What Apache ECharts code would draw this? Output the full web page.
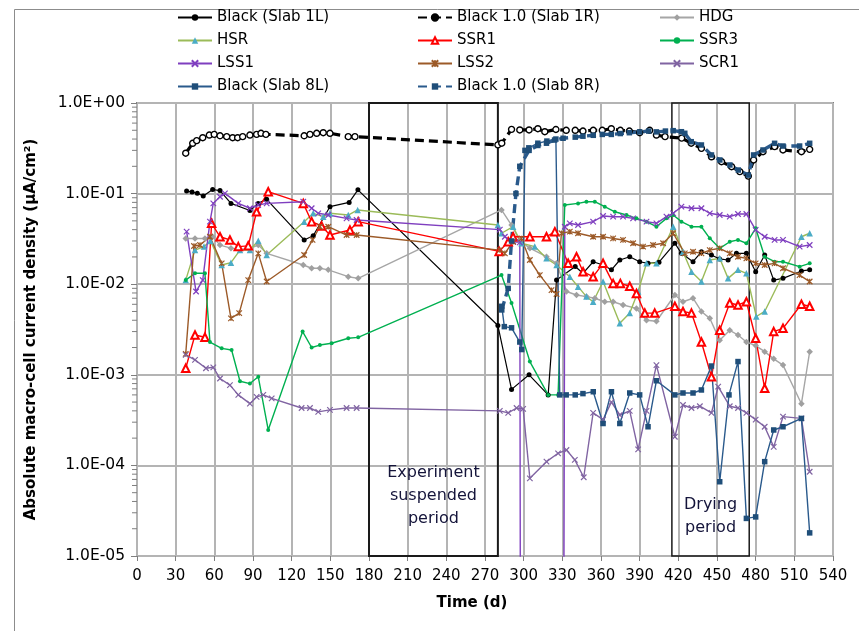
<!DOCTYPE html>
<html>
<head>
<meta charset="utf-8">
<script src="https://cdn.jsdelivr.net/npm/echarts/dist/echarts.min.js"></script>
<style>
  html, body { margin: 0; padding: 0; background: #ffffff; }
  #chart { width: 859px; height: 631px; }
</style>
</head>
<body>
<div id="chart"></div>
<script>
// Macro-cell current density per specimen: [time (d), |i| (µA/cm²)]
const blackSlab1L = [[38.5,0.107],[42.7,0.104],[46.8,0.101],[51.4,0.094],[58.7,0.111],[64.4,0.108],[72.9,0.078],[87.6,0.065],[94,0.078],[100.6,0.0865],[129.7,0.0308],[136.7,0.0343],[149.7,0.0717],[164.6,0.08],[171.4,0.11],[280,0.0035],[290.6,0.00069],[304.2,0.001],[319,0.0006],[325.5,0.0111],[340,0.0157],[346,0.0132],[353.9,0.0177],[361.6,0.0163],[368.1,0.0144],[374.6,0.0185],[382.3,0.0201],[390,0.0177],[396.5,0.017],[405,0.0175],[417.3,0.0283],[422.4,0.0219],[431.4,0.0177],[437.9,0.0228],[445.7,0.021],[452,0.019],[458.6,0.0185],[465.1,0.0219],[472.8,0.0219],[480,0.0137],[487,0.021],[494,0.0111],[501.2,0.0116],[515.5,0.014],[521.9,0.0144]];

const black10Slab1R = [[37.8,0.279],[43.2,0.359],[46.3,0.384],[51,0.414],[56.1,0.443],[59.9,0.451],[64.4,0.435],[69.6,0.425],[74.2,0.414],[78.1,0.414],[82,0.425],[87.6,0.443],[92.8,0.451],[96.2,0.463],[100,0.451],[129.7,0.435],[134.2,0.451],[139.4,0.463],[144.5,0.47],[149.7,0.463],[163.9,0.425],[169.1,0.425],[280,0.345],[283,0.36],[290.6,0.512],[297,0.504],[304.2,0.504],[311,0.52],[316.4,0.482],[325,0.51],[333,0.5],[340,0.5],[346,0.49],[354,0.5],[361,0.5],[368,0.52],[375,0.5],[382,0.49],[390,0.47],[397.8,0.5],[403,0.443],[409.7,0.425],[422.6,0.41],[430,0.36],[437.9,0.316],[445.7,0.255],[453.5,0.225],[461.3,0.198],[467.7,0.175],[474.3,0.156],[478.4,0.235],[485.7,0.29],[494.7,0.33],[501.2,0.303],[515.5,0.29],[521.9,0.308]];

const hdg = [[37.8,0.032],[45,0.032],[52.7,0.032],[58.7,0.0334],[64.4,0.027],[72.9,0.025],[79.9,0.024],[87.6,0.0249],[94.1,0.027],[100.6,0.0219],[129,0.0163],[135.5,0.015],[141.9,0.015],[148.4,0.0144],[163.9,0.0121],[171.6,0.0116],[282.8,0.066],[290.6,0.045],[297,0.03],[304.8,0.025],[317.7,0.0201],[325.5,0.017],[333.2,0.0083],[341,0.0076],[348.7,0.0073],[355.2,0.007],[362.9,0.0064],[369.4,0.0064],[377.1,0.0059],[387.5,0.0054],[395.3,0.004],[403,0.0039],[417.3,0.0076],[423.6,0.0064],[431.4,0.007],[437.9,0.005],[444.4,0.0042],[452.1,0.0024],[459.9,0.0031],[466.3,0.00275],[472.8,0.0023],[480,0.0021],[487,0.0018],[494,0.0015],[501.2,0.00128],[515.5,0.00048],[521.9,0.0018]];

const hsr = [[37.8,0.0111],[45,0.0238],[52,0.026],[57,0.03],[65.7,0.0163],[72.9,0.0173],[79.9,0.0238],[87.6,0.0238],[94.1,0.0302],[100.6,0.021],[129.7,0.049],[136.7,0.0606],[144.5,0.0556],[149.7,0.0606],[163.9,0.058],[171.2,0.066],[280,0.045],[282.8,0.0365],[291.8,0.0431],[298.3,0.0283],[308.6,0.026],[317.7,0.0193],[325.5,0.0163],[335.8,0.0121],[342.2,0.0094],[348.7,0.0073],[353.9,0.0064],[361.6,0.0107],[374.6,0.0037],[382.3,0.0048],[388.8,0.0083],[395.3,0.017],[403,0.017],[416,0.0431],[423.6,0.0228],[430.2,0.0137],[437.9,0.0107],[444.4,0.0185],[452.1,0.0193],[458.6,0.0116],[466.3,0.0144],[472.8,0.0132],[480.5,0.0044],[487,0.005],[515.5,0.0334],[521.9,0.0365]];

const ssr1 = [[37.8,0.00118],[45,0.00275],[52.7,0.0026],[57.9,0.047],[64.4,0.0334],[72.1,0.0308],[78.6,0.026],[86.3,0.0265],[92.8,0.063],[101.8,0.105],[129,0.078],[135.5,0.049],[143.2,0.0439],[149.7,0.0349],[165.2,0.0397],[171.6,0.049],[281,0.023],[288,0.0294],[291.8,0.0334],[304.8,0.0334],[317.7,0.0334],[324.2,0.038],[334.5,0.017],[341,0.0201],[346.1,0.0137],[353.9,0.0121],[361.6,0.017],[369.4,0.0102],[375,0.0102],[382.3,0.0095],[387.5,0.0079],[394,0.0048],[401.7,0.0048],[417.3,0.0057],[423.6,0.005],[430.2,0.0048],[437.9,0.0023],[445.7,0.00095],[452.1,0.0031],[459.9,0.0062],[466.3,0.0059],[472.8,0.0064],[480,0.00253],[487,0.00071],[494,0.003],[501.2,0.00326],[515.5,0.006],[521.9,0.0057]];

const ssr3 = [[37.8,0.0111],[45,0.0132],[52.7,0.0132],[56.6,0.0023],[65.7,0.00196],[73.4,0.00188],[79.9,0.00085],[87.6,0.0008],[94.1,0.00095],[101.8,0.000246],[128.5,0.003],[135.5,0.002],[141.9,0.00213],[151,0.00223],[163.9,0.00253],[171.6,0.00259],[282.8,0.0126],[290.6,0.0062],[304.8,0.0014],[319,0.0006],[326.7,0.0006],[331.9,0.0749],[342.2,0.078],[348.7,0.0814],[355.2,0.0814],[362.9,0.0717],[370.7,0.063],[379.8,0.058],[387.5,0.0533],[395.3,0.049],[403,0.0431],[410.8,0.0533],[416,0.058],[422.4,0.049],[430.2,0.0431],[437.9,0.0431],[444.4,0.0321],[452.1,0.0249],[459.9,0.0294],[466.3,0.0308],[472.8,0.0283],[480,0.0414],[487,0.0201],[494.7,0.0177],[501.2,0.0177],[514.1,0.0156],[521.9,0.017]];

// 0 = reading not plottable on the log scale
const lss1 = [[38.5,0.038],[45.8,0.0083],[51,0.0111],[56.6,0.049],[59.2,0.078],[64.4,0.0924],[68.2,0.1007],[78.6,0.078],[87.6,0.0689],[94,0.0749],[100.6,0.078],[129,0.0814],[135.5,0.0689],[140.6,0.0606],[148.4,0.058],[162.6,0.0533],[170.4,0.0511],[281.5,0.04],[285.4,0.0334],[291.8,0.0294],[297,0.029],[300,0],[327,0],[331.9,0.0431],[335.8,0.047],[342.2,0.045],[353.9,0.049],[361.6,0.0566],[369.4,0.0556],[377.1,0.0556],[384.9,0.0533],[395.3,0.049],[403,0.047],[410.8,0.0556],[416,0.0606],[422.4,0.0717],[430.2,0.0689],[437.9,0.0689],[444.4,0.0606],[452.1,0.058],[459.9,0.0556],[466.3,0.0596],[472.8,0.0596],[480,0.0397],[487,0.0334],[494.7,0.0308],[501.2,0.0308],[514.1,0.026],[521.9,0.0271]];

const lss2 = [[37.8,0.0017],[44.2,0.0264],[48.9,0.0271],[56.6,0.0334],[65.7,0.017],[72.9,0.0042],[79.3,0.0048],[86.3,0.0111],[94.1,0.0219],[100.6,0.0107],[129.7,0.021],[136.2,0.0308],[141.9,0.0431],[148.4,0.0431],[162.6,0.0349],[170.4,0.0349],[281.5,0.0238],[285.4,0.0219],[291.8,0.0294],[298.3,0.032],[304.8,0.0185],[312.5,0.0126],[321.6,0.0086],[325.5,0.0078],[329.3,0.0365],[335.8,0.038],[342.2,0.0365],[353.9,0.0334],[361.6,0.0334],[369.4,0.032],[377.1,0.0308],[384.9,0.0283],[392.6,0.026],[400.4,0.0271],[408.2,0.0283],[416,0.0365],[425,0.0219],[431.4,0.0228],[437.9,0.0219],[444.4,0.0238],[452.1,0.0249],[459.9,0.0219],[466.3,0.0201],[472.8,0.0193],[480,0.017],[487,0.0163],[494.7,0.017],[501.2,0.015],[514.1,0.0126],[521.9,0.0107]];

const scr1 = [[37.8,0.00166],[45,0.00146],[53.5,0.00118],[59.2,0.00121],[64.4,0.00091],[72.1,0.00077],[78.6,0.0006],[87.6,0.00048],[92.8,0.00057],[98,0.0006],[104.5,0.00055],[127.7,0.00043],[134.2,0.00043],[140.6,0.00039],[149.7,0.00041],[162.6,0.00043],[170.4,0.00043],[281.5,0.0004],[288,0.00038],[294.5,0.00043],[299.6,0.00042],[304.8,0.000072],[317.7,0.00011],[326.7,0.000136],[333.2,0.000148],[339.7,0.000115],[346.6,0.000074],[353.9,0.00038],[361.6,0.00032],[368.1,0.0005],[374.6,0.00036],[382.3,0.0004],[388.8,0.00015],[395.3,0.0004],[403,0.00128],[417.3,0.000207],[423.6,0.000464],[430.2,0.00043],[436.7,0.00045],[445.7,0.00038],[450.9,0.00074],[459.9,0.00045],[466.3,0.00043],[472.8,0.00038],[480,0.00032],[487,0.000267],[494,0.00016],[501.2,0.000345],[515.5,0.00033],[521.9,0.000085]];

const blackSlab8L = [[283,0.0057],[285,0.0034],[290.6,0.0033],[297,0.0023],[298.5,0.0019],[301,0.3],[304,0.32],[311,0.36],[318,0.38],[325,0.4],[328,0.0006],[333,0.0006],[340,0.0006],[346,0.00062],[354,0.00065],[361.6,0.00029],[368.1,0.00065],[374.6,0.00029],[382.3,0.00063],[390,0.0006],[396.5,0.000267],[403,0.00086],[417.3,0.0006],[423.6,0.00063],[431.4,0.00063],[437.9,0.00068],[445.7,0.00125],[452.1,0.000066],[459.3,0.0006],[466.3,0.0014],[472.8,0.000026],[480,0.000027],[487,0.00011],[494,0.000246],[501.2,0.000267],[515.5,0.00033],[521.9,0.000018]];

const black10Slab8R = [[283,0.0052],[288,0.009],[290.6,0.03],[294,0.1],[297,0.2],[304.2,0.3],[311,0.34],[317.7,0.36],[324,0.39],[330.6,0.408],[340,0.42],[346,0.43],[354,0.44],[361,0.45],[368,0.45],[375,0.46],[382,0.47],[390,0.48],[397,0.49],[403,0.48],[410,0.49],[416,0.495],[422.4,0.482],[425,0.463],[430,0.374],[437.9,0.344],[445.7,0.267],[452.2,0.235],[460,0.207],[466.5,0.182],[474.3,0.16],[478.4,0.267],[485.7,0.303],[494.7,0.359],[501.2,0.335],[514.1,0.335],[521.9,0.359]];

// Periods marked on the time axis [start, end] (d)
const suspendedPeriod = [180, 280];
const dryingPeriod = [415, 475];

// Log-axis decades and minor tick multipliers
const yDecades = [1e-5, 1e-4, 1e-3, 1e-2, 1e-1, 1];
const minorMultipliers = [2, 3, 4, 5, 6, 7, 8, 9];

const FONT = 'DejaVu Sans';
const plotVal = v => (v > 0 ? v : 1e-30);
const prep = arr => arr.map(p => [p[0], plotVal(p[1])]);

const xMark = 'path://M0,0L10,10M10,0L0,10';
const starMark = 'path://M0,0L10,10M10,0L0,10M5,0L5,10';

function line(name, data, o) {
  return {
    name: name,
    type: 'line',
    data: prep(data),
    showSymbol: true,
    symbol: o.symbol,
    symbolSize: o.size,
    lineStyle: { color: o.line, width: o.width, type: o.dash ? [9, 5] : 'solid' },
    itemStyle: {
      color: o.fill,
      borderColor: o.border || o.fill,
      borderWidth: o.bw || 0
    },
    emphasis: { disabled: true },
    animation: false,
    clip: true,
    z: o.z || 3
  };
}

const minorTickData = [];
yDecades.slice(0, -1).forEach(d => minorMultipliers.forEach(m => minorTickData.push([0, d * m])));

const series = [
  line('Black (Slab 1L)', blackSlab1L, { line: '#000000', width: 1.2, symbol: 'circle', size: 5, fill: '#000000' }),
  line('Black 1.0 (Slab 1R)', black10Slab1R, { line: '#000000', width: 3.2, dash: true, symbol: 'circle', size: 6, fill: '#ffffff', border: '#000000', bw: 1.4 }),
  line('HDG', hdg, { line: '#a6a6a6', width: 1.4, symbol: 'diamond', size: 6.5, fill: '#a0a0a0' }),
  line('HSR', hsr, { line: '#9bbb59', width: 1.4, symbol: 'triangle', size: 6.5, fill: '#4bacc6' }),
  line('SSR1', ssr1, { line: '#ff0000', width: 1.4, symbol: 'emptyTriangle', size: 7.5, fill: '#ff0000', bw: 1.3 }),
  line('SSR3', ssr3, { line: '#00b050', width: 1.4, symbol: 'circle', size: 4, fill: '#00b050' }),
  line('LSS1', lss1, { line: '#7f3fbf', width: 1.4, symbol: xMark, size: 5.5, fill: '#7f3fbf', bw: 1.2 }),
  line('LSS2', lss2, { line: '#9c5a28', width: 1.4, symbol: starMark, size: 5.5, fill: '#9c5a28', bw: 1.2 }),
  line('SCR1', scr1, { line: '#8064a2', width: 1.4, symbol: xMark, size: 5.5, fill: '#8064a2', bw: 1.2 }),
  line('Black (Slab 8L)', blackSlab8L, { line: '#2a5a8c', width: 1.4, symbol: 'rect', size: 5.5, fill: '#1f4e79' }),
  line('Black 1.0 (Slab 8R)', black10Slab8R, { line: '#2a5a8c', width: 3.4, dash: true, symbol: 'rect', size: 5.5, fill: '#1f4e79' }),
  {
    name: 'yMinorTicks',
    type: 'custom',
    silent: true,
    clip: false,
    animation: false,
    data: minorTickData,
    renderItem: function (params, api) {
      const p = api.coord([0, api.value(1)]);
      return {
        type: 'line',
        shape: { x1: p[0] - 5, y1: p[1], x2: p[0], y2: p[1] },
        style: { stroke: '#7f7f7f', lineWidth: 1 }
      };
    },
    z: 4
  }
];

// Boxes around the suspended and drying periods
series[0].markArea = {
  silent: true,
  itemStyle: { color: 'rgba(0,0,0,0)', borderColor: '#1a1a1a', borderWidth: 2 },
  label: {
    show: true,
    position: 'insideBottom',
    fontFamily: FONT,
    fontSize: 16,
    lineHeight: 23,
    color: '#14143a',
    align: 'center'
  },
  data: [
    [{ name: 'Experiment\nsuspended\nperiod', xAxis: suspendedPeriod[0], label: { distance: 27 } }, { xAxis: suspendedPeriod[1] }],
    [{ name: 'Drying\nperiod', xAxis: dryingPeriod[0], itemStyle: { borderWidth: 1.5 }, label: { distance: 17 } }, { xAxis: dryingPeriod[1] }]
  ]
};

const legendText = { fontFamily: FONT, fontSize: 15, color: '#000000' };
const legendBase = {
  orient: 'vertical',
  top: 10,
  itemWidth: 34,
  itemHeight: 8,
  itemGap: 8,
  textStyle: legendText,
  selectedMode: false,
  padding: 0
};

const chart = echarts.init(document.getElementById('chart'), null, { renderer: 'canvas' });
chart.setOption({
  animation: false,
  backgroundColor: '#ffffff',
  graphic: [{
    type: 'rect',
    left: 12,
    top: 7,
    shape: { width: 900, height: 700 },
    style: { fill: 'none', stroke: '#8c8c8c', lineWidth: 1 },
    silent: true
  }],
  legend: [
    Object.assign({ left: 177, data: ['Black (Slab 1L)', 'HSR', 'LSS1', 'Black (Slab 8L)'] }, legendBase),
    Object.assign({ left: 417, data: [{ name: 'Black 1.0 (Slab 1R)', itemStyle: { color: '#000000', borderColor: '#000000' } }, 'SSR1', 'LSS2', 'Black 1.0 (Slab 8R)'] }, legendBase),
    Object.assign({ left: 659, data: ['HDG', 'SSR3', 'SCR1'] }, legendBase)
  ],
  grid: {
    left: 137,
    right: 26,
    top: 103,
    bottom: 75,
    show: true,
    borderColor: '#7f7f7f',
    borderWidth: 2,
    backgroundColor: 'rgba(0,0,0,0)'
  },
  xAxis: {
    type: 'value',
    min: 0,
    max: 540,
    interval: 30,
    name: 'Time (d)',
    nameLocation: 'middle',
    nameGap: 40,
    nameTextStyle: { fontFamily: FONT, fontSize: 15, fontWeight: 'bold', color: '#000', padding: [0, 26, 0, 0] },
    axisLine: { show: false },
    axisTick: { show: true, length: 5, lineStyle: { color: '#7f7f7f', width: 1 } },
    axisLabel: { fontFamily: FONT, fontSize: 15, color: '#000', margin: 13, interval: 0, hideOverlap: false },
    splitLine: { show: true, lineStyle: { color: '#b4b4b4', width: 2 } }
  },
  yAxis: {
    type: 'log',
    logBase: 10,
    min: yDecades[0],
    max: yDecades[yDecades.length - 1],
    name: 'Absolute macro-cell current density (µA/cm²)',
    nameLocation: 'middle',
    nameGap: 98,
    nameTextStyle: { fontFamily: FONT, fontSize: 15, fontWeight: 'bold', color: '#000' },
    axisLine: { show: false },
    axisTick: { show: true, length: 6, lineStyle: { color: '#7f7f7f', width: 1 } },
    axisLabel: {
      fontFamily: FONT,
      fontSize: 15.5,
      color: '#000',
      margin: 12,
      formatter: function (v) {
        const e = Math.round(Math.log10(v));
        return '1.0E' + (e < 0 ? '-' : '+') + String(Math.abs(e)).padStart(2, '0');
      }
    },
    splitLine: { show: true, lineStyle: { color: '#b4b4b4', width: 2 } },
    minorTick: { show: false },
    minorSplitLine: { show: false }
  },
  series: series
});
</script>
</body>
</html>
